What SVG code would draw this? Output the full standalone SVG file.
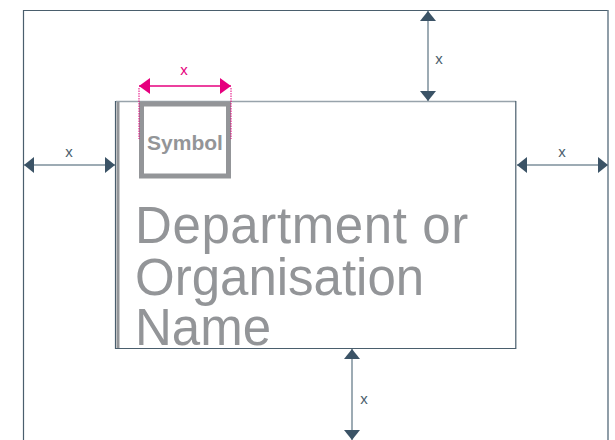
<svg xmlns="http://www.w3.org/2000/svg" width="615" height="440" viewBox="0 0 615 440">
<defs>
<style>
.frame{fill:none;stroke:#4a5e6d;stroke-width:1.2}
.shaft{fill:none;stroke:#7d8f9b;stroke-width:1.5}
.shaftp{fill:none;stroke:#e6007e;stroke-width:1.5}
.ext{fill:none;stroke:#e6007e;stroke-width:1;stroke-dasharray:1.5 1}
.lbl{font-family:"Liberation Sans",Arial,sans-serif;font-size:15px;fill:#4a5e6d;text-anchor:middle}
.lblp{font-family:"Liberation Sans",Arial,sans-serif;font-size:15px;fill:#e6007e;text-anchor:middle}
.name{font-family:"Liberation Sans",Arial,sans-serif;font-size:51px;fill:#939598}
.sym{font-family:"Liberation Sans",Arial,sans-serif;font-size:21px;font-weight:bold;fill:#939598}
</style>
<marker id="ah" viewBox="0 0 10 16" refX="10" refY="8" markerWidth="10" markerHeight="16" markerUnits="userSpaceOnUse" orient="auto-start-reverse">
<path d="M0,0 L10,8 L0,16 z" fill="#3b5366"/>
</marker>
<marker id="ahp" viewBox="0 0 11 16" refX="11" refY="8" markerWidth="11" markerHeight="16" markerUnits="userSpaceOnUse" orient="auto-start-reverse">
<path d="M0,0 L11,8 L0,16 z" fill="#e6007e"/>
</marker>
</defs>
<rect width="615" height="440" fill="#ffffff"/>
<g id="outer-frame">
<path class="frame" d="M23.5,440 V10.5 H608 V440"/>
<path d="M608,10.5 V440" stroke="#8f9ea8" stroke-width="1.5" fill="none"/>
</g>
<g id="logo-box">
<path d="M116,101.5 H516" stroke="#98a3ab" stroke-width="1.5" fill="none"/>
<path d="M515.8,101 V348.5 H115.5 V101" stroke="#4a5e6d" stroke-width="1.2" fill="none"/>
<rect x="116.5" y="102" width="3" height="246" fill="#939598"/>
</g>
<g id="symbol">
<rect x="141.5" y="104" width="87" height="72" fill="none" stroke="#939598" stroke-width="5"/>
<text class="sym" x="185" y="150" text-anchor="middle">Symbol</text>
</g>
<g id="name">
<text class="name" x="135" y="243" letter-spacing="0.6">Department or</text>
<text class="name" x="135" y="295">Organisation</text>
<text class="name" x="135" y="345">Name</text>
</g>
<g id="connectors">
<line class="shaft" x1="428" y1="11" x2="428" y2="101" marker-start="url(#ah)" marker-end="url(#ah)"/>
<text class="lbl" x="439" y="64">x</text>
<line class="shaft" x1="24" y1="165" x2="115" y2="165" marker-start="url(#ah)" marker-end="url(#ah)"/>
<text class="lbl" x="69" y="157">x</text>
<line class="shaft" x1="517" y1="165" x2="608" y2="165" marker-start="url(#ah)" marker-end="url(#ah)"/>
<text class="lbl" x="562" y="157">x</text>
<line class="shaft" x1="352" y1="349" x2="352" y2="440" marker-start="url(#ah)" marker-end="url(#ah)"/>
<text class="lbl" x="364" y="404">x</text>
<line class="shaftp" x1="139" y1="86" x2="231" y2="86" marker-start="url(#ahp)" marker-end="url(#ahp)"/>
<line class="ext" x1="139" y1="88" x2="139" y2="139"/>
<line class="ext" x1="231" y1="88" x2="231" y2="139"/>
<text class="lblp" x="184" y="75">x</text>
</g>
</svg>
